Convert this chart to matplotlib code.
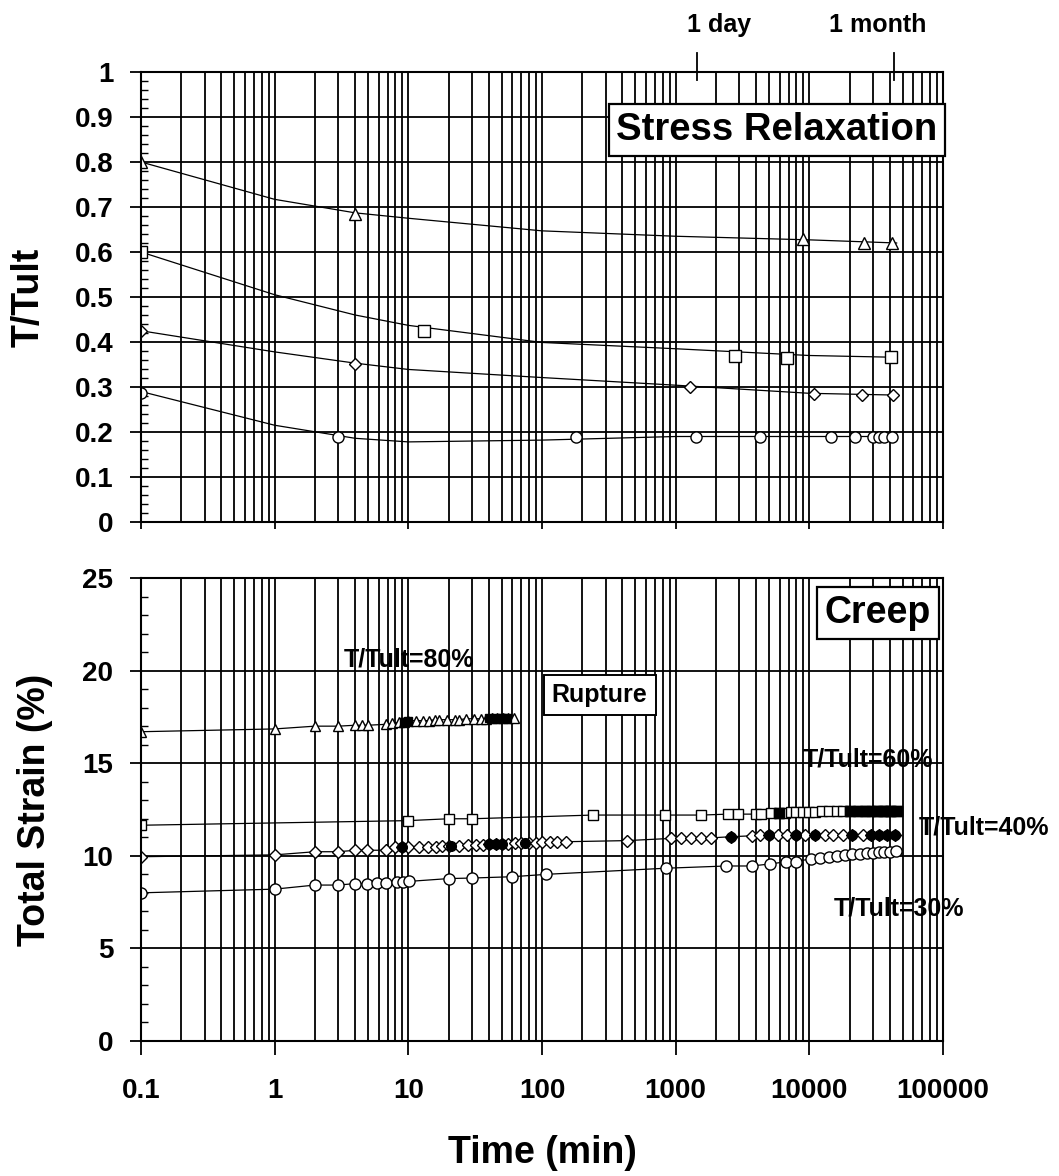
import numpy as np
import matplotlib
matplotlib.use("Agg")
import matplotlib.pyplot as plt
from matplotlib.ticker import FixedLocator, FixedFormatter, LogLocator, MultipleLocator, NullFormatter

plt.rcParams['font.family'] = ['Liberation Sans', 'DejaVu Sans']

# ---- stress relaxation (top) : measured points ----
sr80_t = [0.1, 4, 9000, 25700, 41600]
sr80_y = [0.80, 0.685, 0.628, 0.62, 0.62]
sr60_t = [0.1, 13.2, 2800, 6850, 41000]
sr60_y = [0.60, 0.425, 0.368, 0.364, 0.366]
sr40_t = [0.1, 4, 1270, 10900, 24900, 42400]
sr40_y = [0.425, 0.352, 0.30, 0.284, 0.282, 0.282]
sr30_t = [0.1, 3, 180, 1410, 4300, 14600, 22000, 30000, 33000, 36000, 41700]
sr30_y = [0.287, 0.189, 0.19, 0.19, 0.19, 0.19, 0.188, 0.188, 0.188, 0.188, 0.188]

# fitted curves
fit_t = [0.1, 1, 4, 10, 100, 1000, 10000, 45000]
fit80 = [0.80, 0.717, 0.687, 0.675, 0.647, 0.635, 0.627, 0.62]
fit60 = [0.60, 0.505, 0.46, 0.437, 0.399, 0.385, 0.37, 0.366]
fit40 = [0.425, 0.378, 0.353, 0.339, 0.321, 0.304, 0.286, 0.282]
fit30 = [0.29, 0.215, 0.186, 0.178, 0.182, 0.19, 0.19, 0.19]

# ---- creep (bottom) ----
c80_t = [0.1, 1, 2, 3, 4, 4.5, 5, 6.8, 7.6, 8.5, 9.3, 10, 11.5, 12.8, 14.2, 15.9, 17,
         19.4, 22.5, 24, 27, 31, 35, 38, 42, 46, 51, 56, 62]
c80_y = [16.7, 16.85, 17.0, 17.0, 17.05, 17.05, 17.05, 17.1, 17.15, 17.2, 17.25, 17.3,
         17.3, 17.3, 17.3, 17.35, 17.35, 17.35, 17.35, 17.35, 17.4, 17.4, 17.4, 17.4,
         17.45, 17.45, 17.45, 17.45, 17.45]
c80_fill_t = [9.3, 10, 40, 45, 50, 55]
c80_fill_y = [17.25, 17.3, 17.45, 17.45, 17.45, 17.45]

c60_t = [0.1, 10, 20, 30, 240, 830, 1560, 2470, 2950, 3980, 4380, 5200, 5900, 6600,
         7300, 8000, 9000, 10000, 11000, 12500, 14000, 16000, 18000, 20000, 23000,
         26000, 29000, 32000, 35000, 38000, 41000, 45000]
c60_y = [11.65, 11.9, 12.0, 12.0, 12.2, 12.2, 12.2, 12.25, 12.25, 12.25, 12.25, 12.3,
         12.3, 12.3, 12.35, 12.35, 12.35, 12.35, 12.35, 12.4, 12.4, 12.4, 12.4, 12.4,
         12.4, 12.4, 12.4, 12.4, 12.4, 12.4, 12.4, 12.4]
c60_fill_t = [5900, 20000, 24000, 28000, 32000, 36000, 40000, 45000]
c60_fill_y = [12.3, 12.4, 12.4, 12.4, 12.4, 12.4, 12.4, 12.4]

c40_t = [0.1, 1, 2, 3, 4, 4.9, 6.8, 8, 9, 10, 12, 14, 16, 18, 20, 24, 28, 32, 36, 40,
         45, 50, 56, 63, 70, 80, 90, 100, 115, 130, 150, 430, 930, 1100, 1300, 1550,
         1850, 2600, 3700, 4300, 5000, 5800, 6800, 8000, 9300, 11000, 13000, 15000,
         18000, 21000, 25000, 29000, 33000, 38000, 44000]
c40_y = [9.95, 10.05, 10.22, 10.22, 10.3, 10.3, 10.3, 10.45, 10.45, 10.5, 10.5, 10.5,
         10.5, 10.52, 10.55, 10.55, 10.58, 10.6, 10.6, 10.62, 10.62, 10.65, 10.65,
         10.68, 10.68, 10.7, 10.7, 10.72, 10.75, 10.75, 10.76, 10.82, 10.94, 10.94,
         10.95, 10.96, 10.97, 11.03, 11.08, 11.1, 11.1, 11.1, 11.12, 11.12, 11.12,
         11.13, 11.13, 11.14, 11.14, 11.15, 11.15, 11.15, 11.15, 11.15, 11.15]
c40_fill_t = [9, 21, 40, 45, 50, 75, 2600, 5000, 8000, 11000, 21000, 29000, 33000, 38000, 44000]
c40_fill_y = [10.45, 10.55, 10.62, 10.62, 10.65, 10.7, 11.03, 11.1, 11.12, 11.13, 11.15,
              11.15, 11.15, 11.15, 11.15]

c30_t = [0.1, 1, 2, 3, 4, 4.9, 5.8, 6.8, 8.2, 9.2, 10.2, 20, 30, 60, 108, 850, 2400,
         3700, 5100, 6700, 8000, 10300, 12000, 14000, 16000, 18500, 21000, 24000,
         27000, 30000, 33000, 36000, 40000, 44600]
c30_y = [8.0, 8.2, 8.42, 8.42, 8.5, 8.5, 8.52, 8.55, 8.6, 8.6, 8.62, 8.77, 8.8, 8.87,
         9.0, 9.33, 9.45, 9.45, 9.56, 9.68, 9.68, 9.85, 9.9, 9.95, 10.0, 10.05, 10.1,
         10.1, 10.15, 10.15, 10.2, 10.2, 10.2, 10.25]

x_ticks = [0.1, 1, 10, 100, 1000, 10000, 100000]
x_labels = ["0.1", "1", "10", "100", "1000", "10000", "100000"]
time_marks = [1440, 43200]
time_labels = ["1 day", "1 month"]

W, H = 1059, 1176
fig = plt.figure(figsize=(W / 100, H / 100), dpi=100)
L, R = 141, 943
ax1 = fig.add_axes([L / W, 1 - 522 / H, (R - L) / W, 450 / H])
ax2 = fig.add_axes([L / W, 1 - 1041 / H, (R - L) / W, 463 / H])

lw_grid = 1.3
for ax in (ax1, ax2):
    ax.set_xscale('log')
    ax.set_xlim(0.1, 100000)
    ax.xaxis.set_major_locator(FixedLocator(x_ticks))
    ax.xaxis.set_minor_locator(LogLocator(base=10, subs=np.arange(2, 10), numticks=20))
    ax.xaxis.set_minor_formatter(NullFormatter())
    ax.grid(True, which='major', axis='both', color='black', lw=lw_grid)
    ax.grid(True, which='minor', axis='x', color='black', lw=lw_grid)
    ax.set_axisbelow(True)
    for s in ax.spines.values():
        s.set_linewidth(1.5)
    ax.tick_params(axis='y', which='major', direction='out', length=8, width=1.3,
                   pad=12, labelsize=20)
    ax.tick_params(axis='y', which='minor', direction='in', length=5, width=1.0)
    ax.tick_params(axis='x', which='minor', length=0)

mk = dict(color='black', mfc='white', mec='black', mew=1.0, lw=0)

# top panel
ax1.set_ylim(0, 1)
ax1.yaxis.set_minor_locator(MultipleLocator(0.02))
ax1.set_yticks(np.arange(0, 1.01, 0.1))
ax1.set_yticklabels(["0", "0.1", "0.2", "0.3", "0.4", "0.5", "0.6", "0.7", "0.8", "0.9", "1"],
                    fontweight='bold')
ax1.tick_params(axis='x', which='major', direction='out', length=5, width=1.3, labelbottom=False)
for fy in (fit80, fit60, fit40, fit30):
    ax1.plot(fit_t, fy, color='black', lw=0.9)
ax1.plot(sr80_t, sr80_y, marker='^', ms=8, **mk)
ax1.plot(sr60_t, sr60_y, marker='s', ms=8, **mk)
ax1.plot(sr40_t, sr40_y, marker='D', ms=6, **mk)
ax1.plot(sr30_t, sr30_y, marker='o', ms=8, **mk)
ax1.set_ylabel("T/Tult", fontsize=27, fontweight='bold')
ax1.yaxis.set_label_coords(-0.118, 0.5)
ax1.text(0.793, 0.871, "Stress Relaxation", transform=ax1.transAxes, ha='center', va='center',
         fontsize=27.5, fontweight='bold',
         bbox=dict(boxstyle='square,pad=0.2', fc='white', ec='black', lw=1.6))
for t, lab, dx in zip(time_marks, time_labels, [16, -12]):
    ax1.plot([t, t], [0.982, 1.042], color='black', lw=1.3,
             transform=ax1.get_xaxis_transform(), clip_on=False)
    ax1.annotate(lab, xy=(t, 1.105), xycoords=ax1.get_xaxis_transform(),
                 xytext=(dx, 0), textcoords='offset points', ha='center', va='center',
                 fontsize=18, fontweight='bold', annotation_clip=False)

# bottom panel
ax2.set_ylim(0, 25)
ax2.set_yticks([0, 5, 10, 15, 20, 25])
ax2.set_yticklabels(["0", "5", "10", "15", "20", "25"], fontweight='bold')
ax2.yaxis.set_minor_locator(MultipleLocator(1))
ax2.xaxis.set_major_formatter(FixedFormatter(x_labels))
ax2.tick_params(axis='x', which='major', direction='out', length=10, width=1.3, pad=17,
                labelsize=20)
for lab in ax2.get_xticklabels():
    lab.set_fontweight('bold')
lmk = dict(color='black', lw=0.9, mfc='white', mec='black', mew=1.0)
ax2.plot(c80_t, c80_y, marker='^', ms=7, **lmk)
ax2.plot(c80_fill_t, c80_fill_y, 's', ms=6, color='black')
ax2.plot(c60_t, c60_y, marker='s', ms=7, **lmk)
ax2.plot(c60_fill_t, c60_fill_y, 's', ms=7, color='black')
ax2.plot(c40_t, c40_y, marker='D', ms=6, **lmk)
ax2.plot(c40_fill_t, c40_fill_y, 'o', ms=7, color='black')
ax2.plot(c30_t, c30_y, marker='o', ms=8, **lmk)
ax2.set_ylabel("Total Strain (%)", fontsize=27, fontweight='bold')
ax2.yaxis.set_label_coords(-0.11, 0.5)
ax2.set_xlabel("Time (min)", fontsize=27, fontweight='bold', labelpad=22)
ax2.text(0.919, 0.924, "Creep", transform=ax2.transAxes, ha='center', va='center',
         fontsize=27, fontweight='bold',
         bbox=dict(boxstyle='square,pad=0.22', fc='white', ec='black', lw=1.6))
ax2.text(0.572, 0.747, "Rupture", transform=ax2.transAxes, ha='center', va='center',
         fontsize=18, fontweight='bold',
         bbox=dict(boxstyle='square,pad=0.32', fc='white', ec='black', lw=1.4))
for txt, x, y in [("T/Tult=80%", 10.2, 20.6), ("T/Tult=60%", 27500, 15.2),
                  ("T/Tult=40%", 202000, 11.55), ("T/Tult=30%", 47000, 7.18)]:
    ax2.text(x, y, txt, ha='center', va='center', fontsize=18, fontweight='bold',
             clip_on=False)

fig.savefig("out.png", dpi=100)
